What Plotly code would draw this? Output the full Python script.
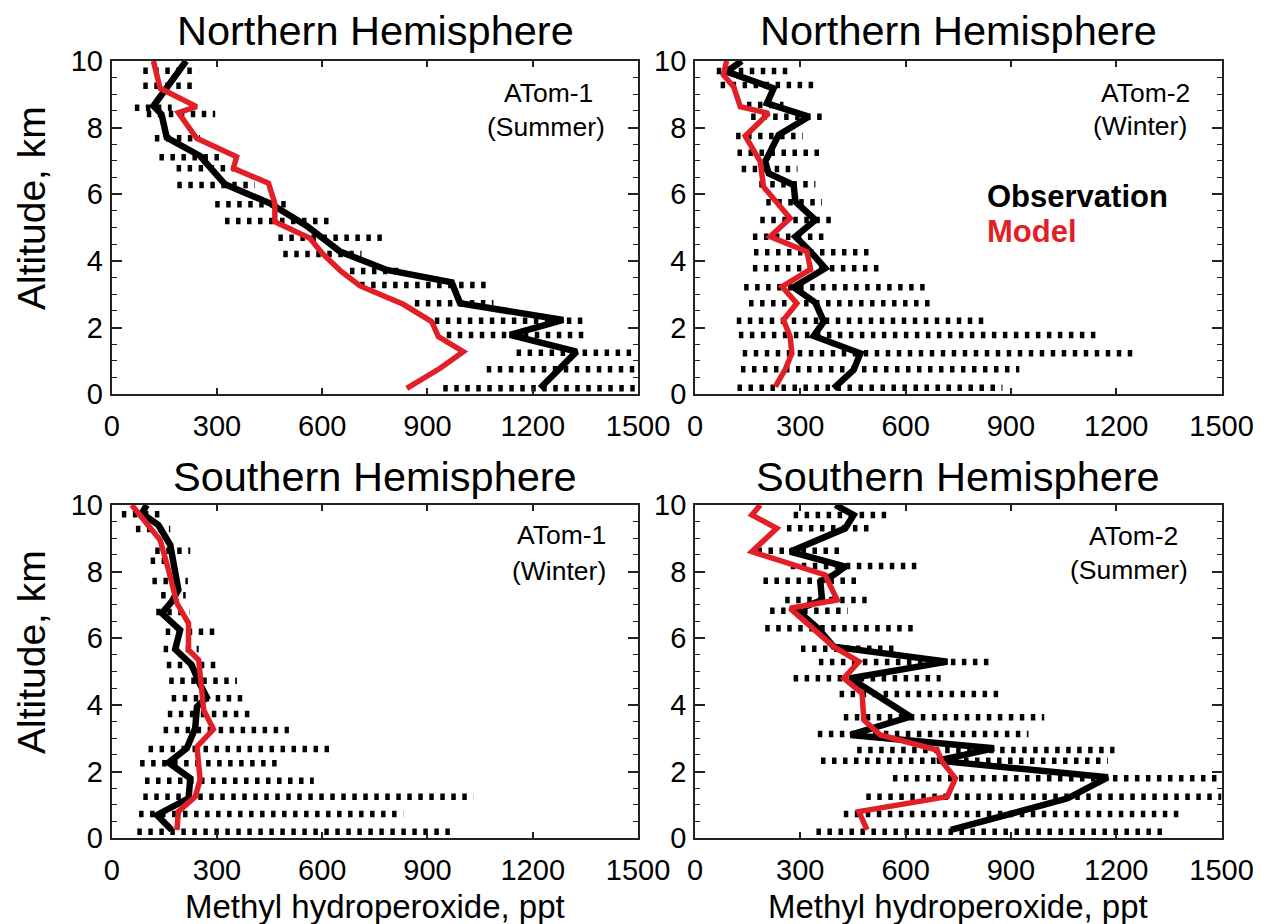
import plotly.graph_objects as go

# ---------------- data ----------------
x_ticks = [0, 300, 600, 900, 1200, 1500]
x_ticktext = ["0", "300", "600", "900", "1200", "1500"]
y_ticks = [0, 2, 4, 6, 8, 10]
y_ticktext = ["0", "2", "4", "6", "8", "10"]

panel_titles = ["Northern Hemisphere", "Northern Hemisphere", "Southern Hemisphere", "Southern Hemisphere"]
panel_campaign = ["ATom-1", "ATom-2", "ATom-1", "ATom-2"]
panel_season = ["(Summer)", "(Winter)", "(Winter)", "(Summer)"]

# NH ATom-1
bar_alt_nh1 = [9.71, 9.26, 8.60, 8.41, 7.68, 7.11, 6.78, 6.28, 5.70, 5.20, 4.70, 4.21, 3.70, 3.28, 2.73, 2.21, 1.78, 1.25, 0.75, 0.18]
bar_lo_nh1 = [90, 90, 66, 100, 123, 136, 185, 187, 295, 323, 475, 489, 679, 708, 864, 921, 955, 1154, 1069, 945]
bar_hi_nh1 = [247, 242, 171, 295, 252, 323, 347, 408, 513, 632, 774, 712, 836, 1069, 1088, 1354, 1358, 1491, 1500, 1491]
obs_alt_nh1 = [10.0, 9.3, 8.65, 8.4, 7.7, 7.15, 6.3, 5.73, 5.05, 4.28, 3.73, 3.36, 2.73, 2.23, 1.78, 1.28, 0.18]
obs_nh1 = [212, 165, 119, 142, 157, 252, 323, 451, 556, 651, 784, 969, 993, 1287, 1135, 1325, 1221]
mod_alt_nh1 = [10.0, 9.18, 8.63, 8.45, 7.68, 7.13, 6.78, 6.33, 5.73, 5.18, 4.68, 4.23, 3.68, 3.25, 2.7, 2.18, 1.73, 1.28, 0.78, 0.18]
mod_nh1 = [119, 138, 242, 190, 242, 356, 347, 447, 465, 465, 565, 600, 655, 708, 831, 912, 931, 1002, 936, 841]

# NH ATom-2
bar_alt_nh2 = [9.70, 9.28, 8.68, 8.33, 7.75, 7.25, 6.76, 6.30, 5.76, 5.23, 4.73, 4.26, 3.78, 3.21, 2.73, 2.21, 1.78, 1.23, 0.75, 0.20]
bar_lo_nh2 = [62, 73, 148, 160, 117, 121, 133, 183, 203, 186, 165, 168, 165, 140, 154, 119, 125, 136, 131, 121]
bar_hi_nh2 = [281, 352, 252, 379, 307, 371, 292, 343, 362, 405, 373, 498, 533, 657, 676, 838, 1152, 1248, 924, 876]
obs_alt_nh2 = [10.0, 9.68, 9.18, 8.73, 8.33, 7.78, 6.98, 6.63, 6.28, 5.78, 5.23, 4.73, 4.28, 3.78, 3.21, 2.75, 2.18, 1.75, 1.23, 0.73, 0.18]
obs_nh2 = [133, 90, 224, 205, 324, 238, 200, 210, 281, 286, 343, 286, 329, 371, 281, 343, 367, 338, 471, 452, 395]
mod_alt_nh2 = [10.0, 9.58, 9.23, 8.63, 8.43, 7.75, 6.98, 6.63, 6.23, 5.28, 4.73, 4.28, 3.75, 3.23, 2.73, 2.23, 1.73, 1.23, 0.75, 0.23]
mod_nh2 = [90, 81, 110, 129, 210, 143, 186, 190, 195, 271, 214, 319, 329, 248, 290, 252, 271, 276, 257, 229]

# SH ATom-1
bar_alt_sh1 = [9.72, 9.28, 8.63, 8.33, 7.72, 7.29, 6.79, 6.20, 5.68, 5.20, 4.73, 4.20, 3.73, 3.25, 2.68, 2.25, 1.73, 1.25, 0.73, 0.20]
bar_lo_sh1 = [29, 69, 124, 111, 116, 141, 127, 154, 148, 157, 164, 171, 160, 148, 105, 81, 95, 90, 78, 73]
bar_hi_sh1 = [148, 167, 224, 181, 217, 211, 222, 307, 248, 307, 357, 384, 408, 505, 624, 481, 576, 1031, 831, 969]
obs_alt_sh1 = [10.0, 9.75, 9.4, 8.8, 7.45, 7.1, 6.75, 6.25, 5.67, 5.2, 4.7, 4.23, 3.95, 3.3, 2.7, 2.27, 1.8, 1.2, 0.7, 0.25]
obs_sh1 = [100, 86, 133, 167, 190, 171, 143, 195, 181, 228, 248, 271, 243, 238, 214, 162, 224, 219, 129, 171]
mod_alt_sh1 = [10.0, 9.55, 8.95, 8.05, 7.05, 6.45, 5.65, 5.35, 4.45, 3.85, 3.27, 2.75, 1.75, 1.25, 0.8, 0.25]
mod_sh1 = [57, 90, 138, 162, 186, 219, 219, 248, 257, 262, 290, 243, 252, 238, 190, 186]

# SH ATom-2
bar_alt_sh2 = [9.70, 9.30, 8.63, 8.17, 7.73, 7.15, 6.83, 6.30, 5.69, 5.29, 4.80, 4.33, 3.63, 3.13, 2.65, 2.33, 1.80, 1.25, 0.73, 0.20]
bar_lo_sh2 = [281, 262, 178, 273, 195, 257, 214, 200, 302, 353, 281, 412, 424, 350, 462, 359, 564, 488, 424, 346]
bar_hi_sh2 = [547, 503, 428, 635, 468, 506, 435, 631, 571, 843, 700, 871, 995, 950, 1195, 1176, 1500, 1500, 1395, 1348]
obs_alt_sh2 = [10.0, 9.7, 9.3, 8.6, 8.15, 7.9, 7.7, 7.15, 6.85, 6.3, 5.75, 5.3, 4.8, 3.65, 3.1, 2.7, 2.33, 1.83, 1.2, 0.25]
obs_sh2 = [400, 452, 428, 271, 428, 395, 357, 362, 290, 350, 395, 719, 443, 614, 443, 852, 690, 1176, 1062, 729]
mod_alt_sh2 = [10.0, 9.7, 9.3, 8.6, 7.9, 7.15, 6.9, 5.75, 5.3, 4.8, 4.35, 3.55, 3.1, 2.65, 2.3, 1.8, 1.25, 0.8, 0.25]
mod_sh2 = [186, 162, 233, 162, 371, 405, 271, 395, 467, 424, 476, 481, 528, 690, 704, 742, 719, 467, 490]

# ---------------- styling ----------------
# the page body has an 8px margin, so the figure is made 8px smaller and
# page-pixel positions are converted to paper fractions with that offset
OFF = 8
W, H = 1264 - OFF, 924 - OFF
FONT = "Liberation Sans"
RED = "#e21f26"
BLACK = "#000000"

def px_x(p):
    return (p - OFF) / W

def px_y(p):
    return 1 - (p - OFF) / H

x_dom_left = [px_x(111.7), px_x(638.0)]
x_dom_right = [px_x(695.0), px_x(1221.5)]
y_dom_top = [px_y(394.3), px_y(61.0)]
y_dom_bot = [px_y(838.3), px_y(505.0)]

panels = [
    (bar_alt_nh1, bar_lo_nh1, bar_hi_nh1, obs_alt_nh1, obs_nh1, mod_alt_nh1, mod_nh1),
    (bar_alt_nh2, bar_lo_nh2, bar_hi_nh2, obs_alt_nh2, obs_nh2, mod_alt_nh2, mod_nh2),
    (bar_alt_sh1, bar_lo_sh1, bar_hi_sh1, obs_alt_sh1, obs_sh1, mod_alt_sh1, mod_sh1),
    (bar_alt_sh2, bar_lo_sh2, bar_hi_sh2, obs_alt_sh2, obs_sh2, mod_alt_sh2, mod_sh2),
]
domains = [
    (x_dom_left, y_dom_top),
    (x_dom_right, y_dom_top),
    (x_dom_left, y_dom_bot),
    (x_dom_right, y_dom_bot),
]

fig = go.Figure()
layout = dict(
    template="none",
    width=W, height=H, autosize=False,
    margin=dict(l=0, r=0, t=0, b=0, pad=0),
    paper_bgcolor="white", plot_bgcolor="white",
    showlegend=False,
    font=dict(family=FONT, color="black"),
)

for i, (balt, blo, bhi, oalt, oval, malt, mval) in enumerate(panels):
    n = i + 1
    xa = "x" if n == 1 else f"x{n}"
    ya = "y" if n == 1 else f"y{n}"
    bx, by = [], []
    for a, lo, hi in zip(balt, blo, bhi):
        bx += [lo, hi, None]
        by += [a, a, None]
    fig.add_trace(go.Scatter(x=bx, y=by, mode="lines", xaxis=xa, yaxis=ya,
                             line=dict(color=BLACK, width=6.5, dash="4.5px,6.5px"),
                             hoverinfo="skip"))
    fig.add_trace(go.Scatter(x=oval, y=oalt, mode="lines", xaxis=xa, yaxis=ya,
                             line=dict(color=BLACK, width=6.5), name="Observation"))
    fig.add_trace(go.Scatter(x=mval, y=malt, mode="lines", xaxis=xa, yaxis=ya,
                             line=dict(color=RED, width=5.5), name="Model"))

    xd, yd = domains[i]
    xkey = "xaxis" if n == 1 else f"xaxis{n}"
    ykey = "yaxis" if n == 1 else f"yaxis{n}"
    layout[xkey] = dict(
        domain=xd, anchor=ya, range=[0, 1500], automargin=False,
        tickmode="array", tickvals=x_ticks, ticktext=x_ticktext,
        ticks="inside", ticklen=6, tickwidth=1.5, tickcolor="#222",
        showline=True, linecolor="#222", linewidth=1.8, mirror="ticks",
        showgrid=False, zeroline=False,
        tickfont=dict(family=FONT, size=29, color="black"),
        ticklabelstandoff=5,
    )
    layout[ykey] = dict(
        domain=yd, anchor=xa, range=[0, 10], automargin=False,
        tickmode="array", tickvals=y_ticks, ticktext=y_ticktext,
        ticks="inside", ticklen=10, tickwidth=1.5, tickcolor="#222",
        minor=dict(dtick=0.5, ticks="inside", ticklen=5, tickwidth=1.2, tickcolor="#222", showgrid=False),
        showline=True, linecolor="#222", linewidth=1.8, mirror="ticks",
        showgrid=False, zeroline=False,
        tickfont=dict(family=FONT, size=29, color="black"),
        ticklabelstandoff=1,
    )

fig.update_layout(**layout)

# titles
title_pos = [(375, 30), (958, 30), (375, 476), (958, 476)]
for t, (cx, cy) in zip(panel_titles, title_pos):
    fig.add_annotation(text=t, x=px_x(cx), y=px_y(cy), xref="paper", yref="paper",
                       showarrow=False, xanchor="center", yanchor="middle",
                       font=dict(family=FONT, size=41.5, color="black"))

# campaign / season labels
lab_pos = [((548, 93), (546, 127)), ((1145, 93), (1140, 126)),
           ((561, 535), (559, 571)), ((1133, 536), (1129, 570))]
for c, s, ((x1, y1), (x2, y2)) in zip(panel_campaign, panel_season, lab_pos):
    fig.add_annotation(text=c, x=px_x(x1), y=px_y(y1), xref="paper", yref="paper",
                       showarrow=False, xanchor="center", yanchor="middle",
                       font=dict(family=FONT, size=26.5, color="black"))
    fig.add_annotation(text=s, x=px_x(x2), y=px_y(y2), xref="paper", yref="paper",
                       showarrow=False, xanchor="center", yanchor="middle",
                       font=dict(family=FONT, size=26.5, color="black"))

# legend-like text
fig.add_annotation(text="<b>Observation</b>", x=px_x(985), y=px_y(196), xref="paper", yref="paper",
                   showarrow=False, xanchor="left", yanchor="middle",
                   font=dict(family=FONT, size=31, color=BLACK))
fig.add_annotation(text="<b>Model</b>", x=px_x(985), y=px_y(231), xref="paper", yref="paper",
                   showarrow=False, xanchor="left", yanchor="middle",
                   font=dict(family=FONT, size=31, color=RED))

# axis titles
for cy in (208, 652):
    fig.add_annotation(text="Altitude, km", x=px_x(31), y=px_y(cy), xref="paper", yref="paper",
                       showarrow=False, textangle=-90, xanchor="center", yanchor="middle",
                       font=dict(family=FONT, size=39, color="black"))
for cx in (375, 958):
    fig.add_annotation(text="Methyl hydroperoxide, ppt", x=px_x(cx), y=px_y(906), xref="paper", yref="paper",
                       showarrow=False, xanchor="center", yanchor="middle",
                       font=dict(family=FONT, size=33, color="black"))

fig.write_html("out.html")
